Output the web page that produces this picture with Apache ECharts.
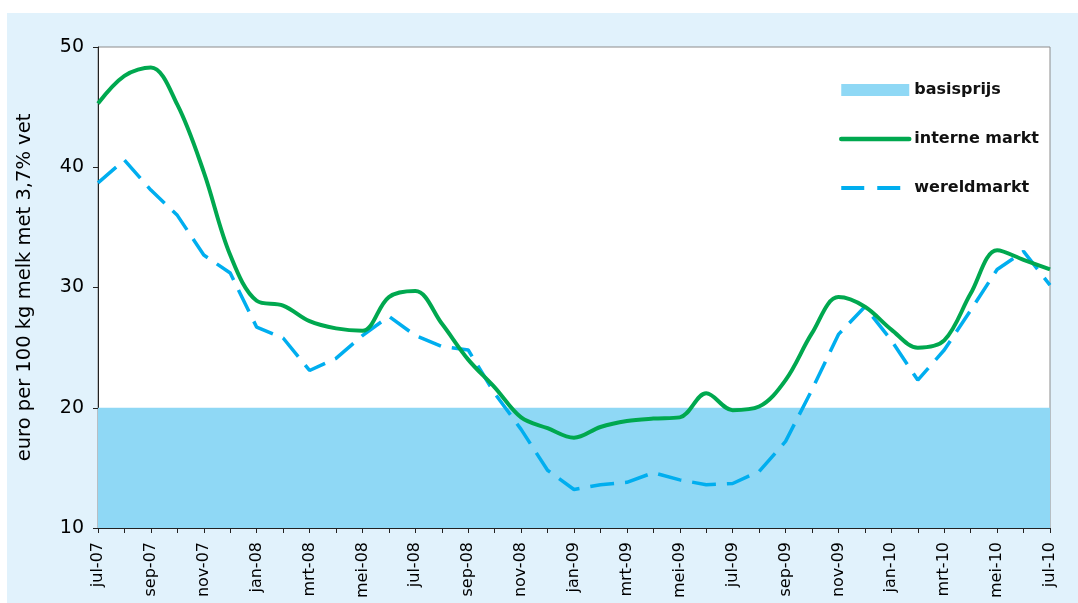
<!DOCTYPE html>
<html>
<head>
<meta charset="utf-8">
<script src="https://cdn.jsdelivr.net/npm/echarts@6/dist/echarts.min.js"></script>
<style>
  html, body { margin: 0; padding: 0; background: #fff; }
  #chart { width: 1078px; height: 603px; }
</style>
</head>
<body>
<div id="chart"></div>
<script>
"use strict";
const months = [
    'jul-07', 'aug-07', 'sep-07', 'okt-07', 'nov-07', 'dec-07',
    'jan-08', 'feb-08', 'mrt-08', 'apr-08', 'mei-08', 'jun-08',
    'jul-08', 'aug-08', 'sep-08', 'okt-08', 'nov-08', 'dec-08',
    'jan-09', 'feb-09', 'mrt-09', 'apr-09', 'mei-09', 'jun-09',
    'jul-09', 'aug-09', 'sep-09', 'okt-09', 'nov-09', 'dec-09',
    'jan-10', 'feb-10', 'mrt-10', 'apr-10', 'mei-10', 'jun-10',
    'jul-10'
];
const basisprijs = months.map(() => 20);
const interneMarkt = [
    45.3, 47.6, 48.3, 45.2, 39.6, 32.7,
    28.9, 28.5, 27.2, 26.6, 26.4, 29.2,
    29.7, 27.0, 24.0, 21.7, 19.2, 18.3,
    17.5, 18.4, 18.9, 19.1, 19.2, 21.2,
    19.8, 20.1, 22.3, 26.2, 29.2, 28.4,
    26.5, 25.0, 25.6, 29.5, 33.1, 32.3,
    31.5
];
const wereldmarkt = [
    38.7, 40.6, 38.1, 36.0, 32.7, 31.2,
    26.7, 25.8, 23.1, 24.1, 26.0, 27.6,
    26.0, 25.1, 24.8, 21.2, 18.2, 14.8,
    13.2, 13.6, 13.8, 14.6, 14.0, 13.6,
    13.7, 14.7, 17.2, 21.5, 26.1, 28.4,
    25.6, 22.3, 24.8, 28.1, 31.5, 33.0,
    30.2
];
const yTitle = 'euro per 100 kg melk met 3,7% vet';

const chart = echarts.init(document.getElementById('chart'));
// legend: no circle marker on the line icons
const noMarker = { color: 'rgba(0,0,0,0)', borderColor: 'rgba(0,0,0,0)', borderWidth: 0 };
const option = {
    animation: false,
    backgroundColor: '#ffffff',
    textStyle: { fontFamily: 'DejaVu Sans, sans-serif' },
    graphic: [{
        type: 'rect',
        z: -10,
        shape: { x: 7, y: 13, width: 1071, height: 590 },
        style: { fill: '#e1f2fc' }
    }],
    grid: {
        left: 98, right: 28, top: 47, bottom: 75,
        show: true,
        backgroundColor: '#ffffff',
        borderColor: '#8c8c8c',
        borderWidth: 1
    },
    legend: {
        orient: 'vertical',
        left: 839,
        top: 82,
        padding: 0,
        itemWidth: 68,
        itemHeight: 12,
        itemGap: 33,
        textStyle: { fontSize: 16, fontWeight: 'bold', color: '#111' },
        data: [
            { name: 'basisprijs', icon: 'rect' },
            {
                name: 'interne markt',
                itemStyle: noMarker,
                lineStyle: { width: 4.5, color: '#00a84f', cap: 'round' }
            },
            {
                name: 'wereldmarkt',
                itemStyle: noMarker,
                lineStyle: { width: 4, color: '#00aeef', type: [23, 13] }
            }
        ]
    },
    xAxis: {
        type: 'category',
        data: months,
        boundaryGap: false,
        axisLine: { lineStyle: { color: '#222', width: 1 } },
        axisTick: { interval: 0, length: 5, lineStyle: { color: '#222' } },
        axisLabel: { interval: 1, rotate: 90, fontSize: 16, color: '#000', margin: 14 },
        splitLine: { show: false }
    },
    yAxis: {
        type: 'value',
        min: 10, max: 50, interval: 10,
        name: yTitle,
        nameLocation: 'middle',
        nameGap: 63,
        nameTextStyle: { fontSize: 19.5, color: '#000' },
        axisLine: { show: true, lineStyle: { color: '#222', width: 1 } },
        axisTick: { show: true, length: 5, lineStyle: { color: '#222' } },
        axisLabel: { fontSize: 19, color: '#000', margin: 14 },
        splitLine: { show: false }
    },
    series: [
        {
            name: 'basisprijs',
            type: 'line',
            data: basisprijs,
            showSymbol: false,
            symbol: 'none',
            itemStyle: { color: '#8fd8f5' },
            lineStyle: { width: 0, color: '#8fd8f5' },
            areaStyle: { color: '#8fd8f5', opacity: 1, origin: 'start' },
            z: 1
        },
        {
            name: 'interne markt',
            type: 'line',
            data: interneMarkt,
            smooth: 0.35,
            showSymbol: false,
            symbol: 'none',
            itemStyle: { color: '#00a84f' },
            lineStyle: { width: 4, color: '#00a84f' },
            z: 3
        },
        {
            name: 'wereldmarkt',
            type: 'line',
            data: wereldmarkt,
            showSymbol: false,
            symbol: 'none',
            itemStyle: { color: '#00aeef' },
            lineStyle: { width: 3.5, color: '#00aeef', type: [24, 11] },
            z: 2
        }
    ]
};
chart.setOption(option);
</script>
</body>
</html>
